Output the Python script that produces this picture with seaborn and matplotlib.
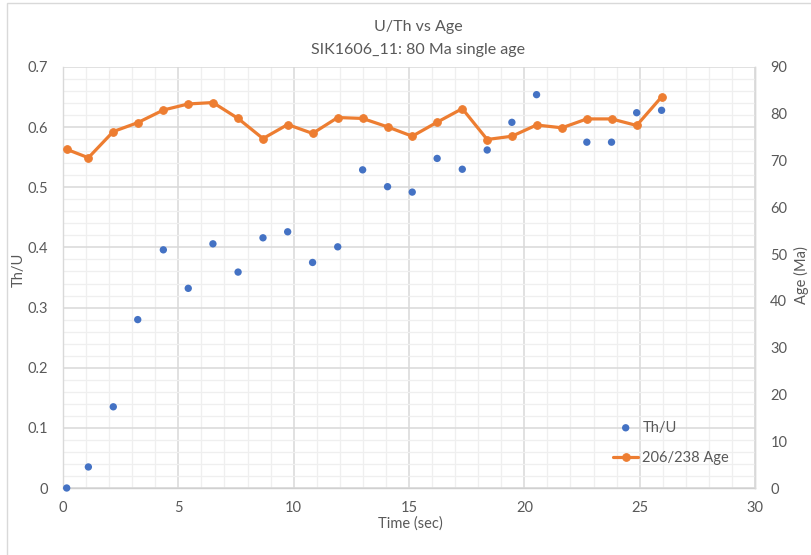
import numpy as np
import pandas as pd
import matplotlib
matplotlib.use("Agg")
import matplotlib.pyplot as plt
from matplotlib.patches import Rectangle
from matplotlib.ticker import MultipleLocator
import seaborn as sns

# ---- data ----
time_sec = [0.16, 1.10, 2.18, 3.24, 4.35, 5.43, 6.50, 7.59, 8.67, 9.74,
            10.82, 11.91, 12.99, 14.07, 15.14, 16.22, 17.31, 18.39, 19.46,
            20.53, 21.63, 22.71, 23.78, 24.87, 25.95]
th_u = [0.000, 0.035, 0.135, 0.280, 0.396, 0.332, 0.406, 0.359, 0.416, 0.426,
        0.375, 0.401, 0.529, 0.501, 0.492, 0.548, 0.530, 0.562, 0.608,
        0.654, np.nan, 0.575, 0.575, 0.624, 0.628]
age_206_238 = [72.4, 70.6, 76.2, 78.1, 80.8, 82.1, 82.4, 79.0, 74.7, 77.7,
               75.8, 79.2, 79.0, 77.2, 75.2, 78.2, 81.1, 74.5, 75.2,
               77.6, 77.0, 78.9, 78.9, 77.5, 83.6]
x_ticks = [0, 5, 10, 15, 20, 25, 30]
y_left_ticks = [0, 0.1, 0.2, 0.3, 0.4, 0.5, 0.6, 0.7]
y_right_ticks = [0, 10, 20, 30, 40, 50, 60, 70, 80, 90]

df = pd.DataFrame({"time": time_sec, "thu": th_u, "age": age_206_238})

sns.set_theme(style="white")
plt.rcParams["font.family"] = ["Lato", "DejaVu Sans"]

TXT = "#595959"
BLUE = "#4472C4"
ORANGE = "#ED7D31"
MAJ = "#d9d9d9"
MIN = "#efefef"

W, H = 811, 555
fig = plt.figure(figsize=(W / 100, H / 100), dpi=100)
L, R, T, B = 63, 755, 67, 488
ax = fig.add_axes([L / W, 1 - B / H, (R - L) / W, (B - T) / H])
ax2 = ax.twinx()

# series
sns.scatterplot(data=df, x="time", y="thu", ax=ax, color=BLUE, s=28,
                edgecolor="none", label="Th/U", legend=False, zorder=3,
                clip_on=False)
sns.lineplot(data=df, x="time", y="age", ax=ax2, color=ORANGE, linewidth=2.3,
             marker="o", markersize=5.5, markeredgecolor=ORANGE,
             label="206/238 Age", legend=False, zorder=3, clip_on=False)

ax.set_xlim(0, 30)
ax.set_ylim(0, 0.7)
ax2.set_ylim(0, 90)
ax.set_xticks(x_ticks)
ax.set_yticks(y_left_ticks)
ax2.set_yticks(y_right_ticks)
ax.set_xticklabels([str(v) for v in x_ticks])
ax.set_yticklabels(["0" if v == 0 else f"{v:.1f}" for v in y_left_ticks])
ax2.set_yticklabels([str(v) for v in y_right_ticks])
ax.xaxis.set_minor_locator(MultipleLocator(1))
ax.yaxis.set_minor_locator(MultipleLocator(0.02))

ax.grid(True, which="major", color=MAJ, linewidth=1.1, zorder=0)
ax.grid(True, which="minor", color=MIN, linewidth=0.9, zorder=0)
ax.set_axisbelow(True)

for a in (ax, ax2):
    for s in a.spines.values():
        s.set_color(MAJ)
        s.set_linewidth(1.0)
    a.spines["top"].set_visible(False)
ax.spines["bottom"].set_color("#d0d0d0")
ax.spines["bottom"].set_zorder(1)
ax2.spines["bottom"].set_visible(False)
ax2.spines["left"].set_visible(False)

ax.tick_params(axis="both", which="both", length=0, colors=TXT, labelsize=10.5)
ax.tick_params(axis="y", pad=11)
ax.tick_params(axis="x", pad=9)
ax2.tick_params(axis="y", length=0, colors=TXT, labelsize=10.5, pad=11)

ax.set_xlabel("Time (sec)", color=TXT, fontsize=10.5)
ax.set_ylabel("Th/U", color=TXT, fontsize=10.5)
ax2.set_ylabel("Age (Ma)", color=TXT, fontsize=10.5)
ax.xaxis.set_label_coords((410 - L) / (R - L), (B - 516) / (B - T))
ax.yaxis.label.set_va("center")
ax.yaxis.set_label_coords((19 - L) / (R - L), (B - 270) / (B - T))
ax2.yaxis.label.set_va("center")
ax2.yaxis.set_label_coords((801 - L) / (R - L), (B - 275) / (B - T))

# titles
fig.text(418 / W, 1 - 27 / H, "U/Th vs Age", ha="center", va="center",
         color=TXT, fontsize=11.5)
fig.text(418 / W, 1 - 50 / H, "SIK1606_11: 80 Ma single age", ha="center",
         va="center", color=TXT, fontsize=11.5)

# legend
h1, l1 = ax.get_legend_handles_labels()
h2, l2 = ax2.get_legend_handles_labels()
leg = ax2.legend(h1 + h2, l1 + l2, loc="center left",
                 bbox_to_anchor=((606 - L) / (R - L), (B - 443) / (B - T)),
                 frameon=False, fontsize=10.5, handlelength=1.7,
                 handletextpad=0.3, labelspacing=1.15, borderpad=0)
for t in leg.get_texts():
    t.set_color(TXT)

# chart outer border
fig.add_artist(Rectangle((7 / W, -0.5), 2, 1.5 - 3 / H, fill=False,
                         edgecolor=MAJ, linewidth=1.0,
                         transform=fig.transFigure, clip_on=False))

fig.savefig("out.png", dpi=100, facecolor="white")
